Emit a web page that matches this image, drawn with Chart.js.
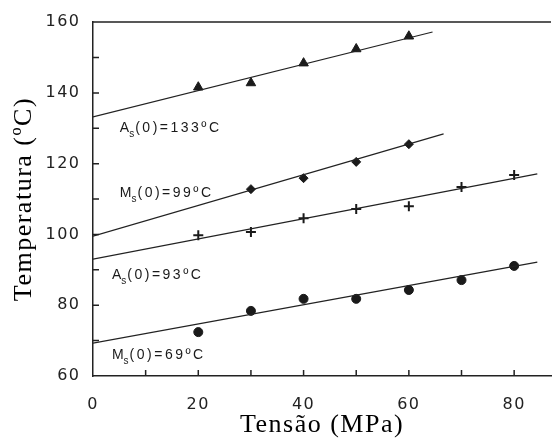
<!DOCTYPE html>
<html>
<head>
<meta charset="utf-8">
<script src="https://cdn.jsdelivr.net/npm/chart.js@4.4.1/dist/chart.umd.min.js"></script>
<style>
  html, body { margin: 0; padding: 0; background: #fff; }
  #wrap { width: 558px; height: 441px; }
</style>
</head>
<body>
<div id="wrap"><canvas id="myChart"></canvas></div>
<script>
// measured points (Tensão MPa -> Temperatura ºC)
const tensaoAs133 = [20, 30, 40, 50, 60];
const tempAs133 = [141.6, 142.8, 148.4, 152.4, 156.0];
const tensaoMs99 = [30, 40, 50, 60];
const tempMs99 = [112.8, 115.9, 120.5, 125.5];
const tensaoAs93 = [20, 30, 40, 50, 60, 70, 80];
const tempAs93 = [99.8, 100.7, 104.6, 107.2, 108.0, 113.4, 116.8];
const tensaoMs69 = [20, 30, 40, 50, 60, 70, 80];
const tempMs69 = [72.4, 78.4, 81.8, 81.8, 84.3, 87.1, 91.1];

// fitted lines (start / end)
const fitAs133X = [0, 64.5];
const fitAs133Y = [133.2, 157.2];
const fitMs99X = [0, 66.6];
const fitMs99Y = [99.5, 128.4];
const fitAs93X = [0, 84.4];
const fitAs93Y = [93.0, 117.1];
const fitMs69X = [0, 84.4];
const fitMs69Y = [69.3, 92.2];

// axis ticks
const xTickMarks = [10, 20, 30, 40, 50, 60, 70, 80];
const yTickMarks = [70, 80, 90, 100, 110, 120, 130, 140, 150];

// curve labels: letter, subscript, rest
const labelMain = ['A', 'M', 'A', 'M'];
const labelSub = ['s', 's', 's', 's'];
const labelRest = ['(0)=133ºC', '(0)=99ºC', '(0)=93ºC', '(0)=69ºC'];
const labelAt = [[5.1, 130.1], [5.1, 111.7], [3.6, 88.5], [3.6, 65.9]];

const ink = '#1a1a1a';
const sans = '"Liberation Sans", Arial, sans-serif';

function pts(xs, ys) {
    return xs.map((x, i) => ({ x: x, y: ys[i] }));
}

function markers(xs, ys, style, radius, width) {
    return {
        data: pts(xs, ys),
        showLine: false,
        pointStyle: style,
        pointRadius: radius,
        pointBorderWidth: width,
        pointBackgroundColor: ink,
        pointBorderColor: ink
    };
}

function fitLine(xs, ys) {
    return {
        data: pts(xs, ys),
        showLine: true,
        pointRadius: 0,
        borderColor: '#222',
        borderWidth: 1.2
    };
}

const spacing = {
    id: 'spacing',
    beforeUpdate(chart) { chart.ctx.letterSpacing = '1.5px'; },
    beforeDraw(chart) { chart.ctx.letterSpacing = '1.5px'; }
};

const frame = {
    id: 'frame',
    afterDraw(chart) {
        const { ctx, chartArea } = chart;
        const xs = chart.scales.x, ys = chart.scales.y;
        ctx.save();
        ctx.strokeStyle = '#222';
        ctx.lineWidth = 1.5;
        ctx.beginPath();
        ctx.moveTo(chartArea.left, chartArea.top);
        ctx.lineTo(chartArea.right, chartArea.top);
        yTickMarks.forEach(v => {
            const py = ys.getPixelForValue(v);
            ctx.moveTo(chartArea.left, py);
            ctx.lineTo(chartArea.left + 6, py);
        });
        xTickMarks.forEach(v => {
            const px = xs.getPixelForValue(v);
            ctx.moveTo(px, chartArea.bottom);
            ctx.lineTo(px, chartArea.bottom - 6);
        });
        ctx.stroke();

        ctx.letterSpacing = '2.5px';
        ctx.fillStyle = ink;
        ctx.textBaseline = 'middle';
        ctx.textAlign = 'left';
        labelMain.forEach((m, i) => {
            let px = xs.getPixelForValue(labelAt[i][0]);
            const py = ys.getPixelForValue(labelAt[i][1]);
            ctx.font = '14px ' + sans;
            ctx.fillText(m, px, py);
            px += ctx.measureText(m).width - 2.5;
            ctx.font = '10px ' + sans;
            ctx.fillText(labelSub[i], px, py + 6);
            px += ctx.measureText(labelSub[i]).width - 1.5;
            ctx.font = '14px ' + sans;
            ctx.fillText(labelRest[i], px, py);
        });
        ctx.restore();
    }
};

const config = {
    type: 'scatter',
    data: {
        datasets: [
            fitLine(fitAs133X, fitAs133Y),
            fitLine(fitMs99X, fitMs99Y),
            fitLine(fitAs93X, fitAs93Y),
            fitLine(fitMs69X, fitMs69Y),
            markers(tensaoAs133, tempAs133, 'triangle', 5.5, 1),
            markers(tensaoMs99, tempMs99, 'rectRot', 4.5, 1),
            markers(tensaoAs93, tempAs93, 'cross', 5, 2),
            markers(tensaoMs69, tempMs69, 'circle', 4.5, 1)
        ]
    },
    options: {
        responsive: true,
        maintainAspectRatio: false,
        animation: false,
        layout: { padding: { top: 22, left: 0, right: 0, bottom: 0 } },
        plugins: {
            legend: { display: false },
            tooltip: { enabled: false }
        },
        scales: {
            x: {
                type: 'linear',
                min: 0,
                max: 87,
                grid: { display: false, drawTicks: false },
                border: { display: true, color: '#222', width: 1.5 },
                ticks: {
                    stepSize: 20,
                    includeBounds: false,
                    padding: 19,
                    color: '#222',
                    font: { family: '"DejaVu Sans", sans-serif', size: 16 }
                },
                title: {
                    display: true,
                    text: 'Tensão (MPa)',
                    color: '#000',
                    padding: { top: 0, bottom: 0 },
                    font: { family: '"Liberation Serif", "Times New Roman", serif', size: 26 }
                },
                afterFit(scale) { scale.height = 65; }
            },
            y: {
                type: 'linear',
                min: 60,
                max: 160,
                grid: { display: false, drawTicks: false },
                border: { display: true, color: '#222', width: 1.5 },
                ticks: {
                    stepSize: 20,
                    padding: 12.5,
                    color: '#222',
                    font: { family: '"DejaVu Sans", sans-serif', size: 16 }
                },
                title: {
                    display: true,
                    text: 'Temperatura (ºC)',
                    color: '#000',
                    padding: { top: 8.5, bottom: 0 },
                    font: { family: '"Liberation Serif", "Times New Roman", serif', size: 26 }
                },
                afterFit(scale) { scale.width = 93; }
            }
        }
    },
    plugins: [spacing, frame]
};

const myChart = new Chart(document.getElementById('myChart'), config);
</script>
</body>
</html>
